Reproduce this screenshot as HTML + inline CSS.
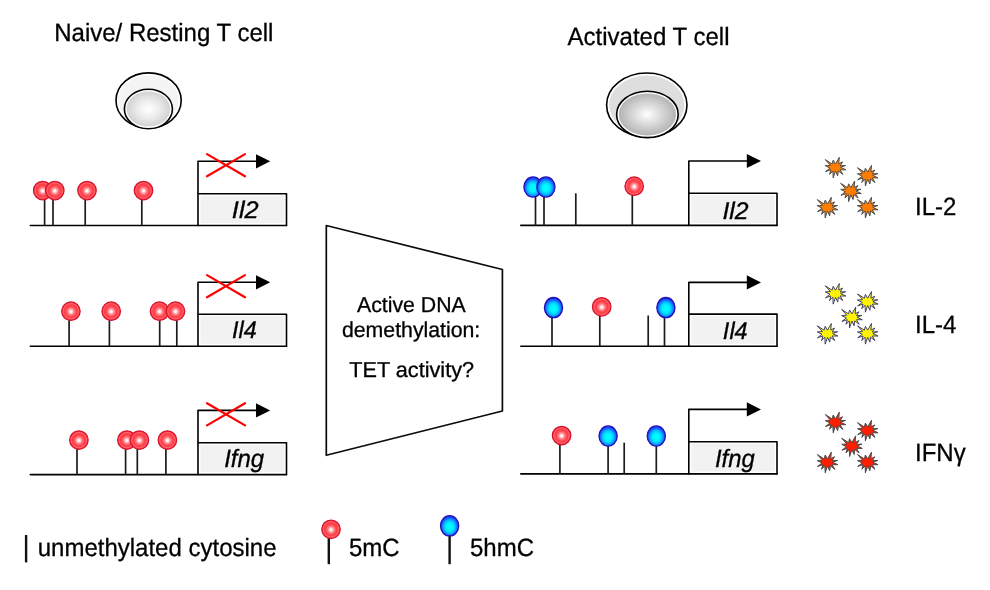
<!DOCTYPE html>
<html><head><meta charset="utf-8"><title>T cell DNA demethylation</title>
<style>
html,body{margin:0;padding:0;background:#fff;}
body{width:990px;height:590px;overflow:hidden;}
svg{display:block;will-change:transform;}
text{font-family:"Liberation Sans",sans-serif;fill:#000;stroke:#000;stroke-width:0.3px;text-rendering:geometricPrecision;}
.t{font-size:25px;}
.b{font-size:21.6px;}
.l{font-size:25px;}
.k{font-size:25px;}
.g{font-style:italic;}
.ln{stroke:#000;stroke-width:1.6;stroke-linejoin:round;stroke-linecap:round;}
.st{stroke:#1c1c1c;stroke-width:1.7;}
</style></head><body>
<svg width="990" height="590" viewBox="0 0 990 590">
<defs>
<radialGradient id="gr" cx="50%" cy="52%" r="50%">
<stop offset="0" stop-color="#ffffff"/><stop offset="0.1" stop-color="#fff2f2"/><stop offset="0.36" stop-color="#ff7a80"/><stop offset="0.58" stop-color="#ff424c"/><stop offset="1" stop-color="#ff3842"/>
</radialGradient>
<radialGradient id="gb" cx="50%" cy="55%" r="50%">
<stop offset="0" stop-color="#00ffff"/><stop offset="0.38" stop-color="#00f2ff"/><stop offset="0.64" stop-color="#08baff"/><stop offset="0.86" stop-color="#1268ff"/><stop offset="1" stop-color="#1838ff"/>
</radialGradient>
<radialGradient id="gc1" cx="50%" cy="50%" r="50%">
<stop offset="0" stop-color="#ffffff"/><stop offset="0.5" stop-color="#ececec"/><stop offset="1" stop-color="#d2d2d2"/>
</radialGradient>
<radialGradient id="gc2" cx="50%" cy="50%" r="50%">
<stop offset="0" stop-color="#ffffff"/><stop offset="0.45" stop-color="#dcdcdc"/><stop offset="1" stop-color="#b4b4b4"/>
</radialGradient>
</defs>
<text transform="translate(54.2 41.3) scale(0.96 1)" class="t">Naive/ Resting T cell</text>
<text transform="translate(567.6 45.1) scale(0.96 1)" class="t">Activated T cell</text>
<ellipse cx="148.6" cy="100.5" rx="32.6" ry="27.6" fill="#fff" stroke="#000" stroke-width="1.6"/>
<ellipse cx="148.6" cy="100.6" rx="30.2" ry="25.2" fill="#f4f4f4"/>
<ellipse cx="148.4" cy="109" rx="24" ry="19.8" fill="#fff" stroke="#000" stroke-width="1.6"/>
<ellipse cx="148.4" cy="109" rx="21.8" ry="17.6" fill="url(#gc1)"/>
<ellipse cx="646.8" cy="105" rx="40.2" ry="32" fill="#fff" stroke="#000" stroke-width="1.6"/>
<ellipse cx="646.8" cy="105.1" rx="37.6" ry="29.5" fill="#dedede"/>
<ellipse cx="647.4" cy="114.4" rx="30.8" ry="23.2" fill="#fff" stroke="#000" stroke-width="1.6"/>
<ellipse cx="647.4" cy="114.4" rx="28.6" ry="21" fill="url(#gc2)"/>
<rect x="198" y="193.8" width="88.5" height="31.69999999999999" fill="#fff"/><rect x="200.5" y="195.8" width="83.8" height="27.3" fill="#f2f2f2"/><line x1="30.3" y1="225.5" x2="286.5" y2="225.5" class="ln"/><path d="M198 193.8 H286.5 V225.5" class="ln" fill="none"/><path d="M198 225.5 V161.3 H258.0" class="ln" fill="none"/><path d="M256.0 154.20000000000002 L270.2 161.3 L256.0 168.4 Z" fill="#000"/><path d="M207.0 154.10000000000002 L245.0 176.3 M245.0 154.10000000000002 L207.0 176.3" stroke="#ff0000" stroke-width="2.2" fill="none" stroke-linecap="round"/><text transform="translate(245.3 217.5) scale(1.06 1)" class="g" font-size="24" text-anchor="middle">Il2</text>
<rect x="198" y="314.2" width="88.5" height="32.0" fill="#fff"/><rect x="200.5" y="316.2" width="83.8" height="27.6" fill="#f2f2f2"/><line x1="30.3" y1="346.2" x2="286.5" y2="346.2" class="ln"/><path d="M198 314.2 H286.5 V346.2" class="ln" fill="none"/><path d="M198 346.2 V282.3 H258.0" class="ln" fill="none"/><path d="M256.0 275.2 L270.2 282.3 L256.0 289.40000000000003 Z" fill="#000"/><path d="M207.0 275.09999999999997 L245.0 297.3 M245.0 275.09999999999997 L207.0 297.3" stroke="#ff0000" stroke-width="2.2" fill="none" stroke-linecap="round"/><text transform="translate(244.4 338.2) scale(0.975 1)" class="g" font-size="24" text-anchor="middle">Il4</text>
<rect x="198" y="442.7" width="88.5" height="31.900000000000034" fill="#fff"/><rect x="200.5" y="444.7" width="83.8" height="27.5" fill="#f2f2f2"/><line x1="30.3" y1="474.6" x2="286.5" y2="474.6" class="ln"/><path d="M198 442.7 H286.5 V474.6" class="ln" fill="none"/><path d="M198 474.6 V410.4 H258.0" class="ln" fill="none"/><path d="M256.0 403.29999999999995 L270.2 410.4 L256.0 417.5 Z" fill="#000"/><path d="M207.0 403.19999999999993 L245.0 425.4 M245.0 403.19999999999993 L207.0 425.4" stroke="#ff0000" stroke-width="2.2" fill="none" stroke-linecap="round"/><text transform="translate(244.15 467.2) scale(0.96 1)" class="g" font-size="25" text-anchor="middle">Ifng</text>
<line x1="44.6" y1="198.5" x2="44.6" y2="225.5" class="st"/><circle cx="42.7" cy="190.5" r="9.25" fill="url(#gr)" stroke="#d4142e" stroke-width="1.25"/><circle cx="42.7" cy="190.5" r="7.7" fill="none" stroke="#ffffff" stroke-opacity="0.22" stroke-width="1"/>
<line x1="53" y1="198.5" x2="53" y2="225.5" class="st"/><circle cx="54.8" cy="190.5" r="9.25" fill="url(#gr)" stroke="#d4142e" stroke-width="1.25"/><circle cx="54.8" cy="190.5" r="7.7" fill="none" stroke="#ffffff" stroke-opacity="0.22" stroke-width="1"/>
<line x1="85.2" y1="198.5" x2="85.2" y2="225.5" class="st"/><circle cx="87" cy="190.5" r="9.25" fill="url(#gr)" stroke="#d4142e" stroke-width="1.25"/><circle cx="87" cy="190.5" r="7.7" fill="none" stroke="#ffffff" stroke-opacity="0.22" stroke-width="1"/>
<line x1="141.8" y1="198.5" x2="141.8" y2="225.5" class="st"/><circle cx="143.5" cy="190.5" r="9.25" fill="url(#gr)" stroke="#d4142e" stroke-width="1.25"/><circle cx="143.5" cy="190.5" r="7.7" fill="none" stroke="#ffffff" stroke-opacity="0.22" stroke-width="1"/>
<line x1="69.1" y1="319.2" x2="69.1" y2="346.2" class="st"/><circle cx="70.9" cy="311.2" r="9.25" fill="url(#gr)" stroke="#d4142e" stroke-width="1.25"/><circle cx="70.9" cy="311.2" r="7.7" fill="none" stroke="#ffffff" stroke-opacity="0.22" stroke-width="1"/>
<line x1="109.4" y1="319.2" x2="109.4" y2="346.2" class="st"/><circle cx="111.2" cy="311.2" r="9.25" fill="url(#gr)" stroke="#d4142e" stroke-width="1.25"/><circle cx="111.2" cy="311.2" r="7.7" fill="none" stroke="#ffffff" stroke-opacity="0.22" stroke-width="1"/>
<line x1="159.7" y1="319.2" x2="159.7" y2="346.2" class="st"/><circle cx="159.5" cy="311.2" r="9.25" fill="url(#gr)" stroke="#d4142e" stroke-width="1.25"/><circle cx="159.5" cy="311.2" r="7.7" fill="none" stroke="#ffffff" stroke-opacity="0.22" stroke-width="1"/>
<line x1="176.8" y1="319.2" x2="176.8" y2="346.2" class="st"/><circle cx="175.5" cy="311.2" r="9.25" fill="url(#gr)" stroke="#d4142e" stroke-width="1.25"/><circle cx="175.5" cy="311.2" r="7.7" fill="none" stroke="#ffffff" stroke-opacity="0.22" stroke-width="1"/>
<line x1="77" y1="448.1" x2="77" y2="474.6" class="st"/><circle cx="78.9" cy="440.1" r="9.25" fill="url(#gr)" stroke="#d4142e" stroke-width="1.25"/><circle cx="78.9" cy="440.1" r="7.7" fill="none" stroke="#ffffff" stroke-opacity="0.22" stroke-width="1"/>
<line x1="125.6" y1="448.1" x2="125.6" y2="474.6" class="st"/><circle cx="126.9" cy="440.1" r="9.25" fill="url(#gr)" stroke="#d4142e" stroke-width="1.25"/><circle cx="126.9" cy="440.1" r="7.7" fill="none" stroke="#ffffff" stroke-opacity="0.22" stroke-width="1"/>
<line x1="137.3" y1="448.1" x2="137.3" y2="474.6" class="st"/><circle cx="139.4" cy="440.1" r="9.25" fill="url(#gr)" stroke="#d4142e" stroke-width="1.25"/><circle cx="139.4" cy="440.1" r="7.7" fill="none" stroke="#ffffff" stroke-opacity="0.22" stroke-width="1"/>
<line x1="165.9" y1="448.1" x2="165.9" y2="474.6" class="st"/><circle cx="167.4" cy="440.1" r="9.25" fill="url(#gr)" stroke="#d4142e" stroke-width="1.25"/><circle cx="167.4" cy="440.1" r="7.7" fill="none" stroke="#ffffff" stroke-opacity="0.22" stroke-width="1"/>
<path d="M326.3 225.5 L502.4 269.5 L502.4 411 L326.3 455.3 Z" fill="#fff" stroke="#0a0a0a" stroke-width="1.7" stroke-linejoin="round"/>
<text transform="translate(411.4 312.45) scale(0.985 1)" class="b" text-anchor="middle">Active DNA</text>
<text transform="translate(411.1 336.8) scale(0.985 1)" class="b" text-anchor="middle">demethylation:</text>
<text transform="translate(411.65 377.4) scale(1.003 1)" class="b" text-anchor="middle">TET activity?</text>
<rect x="688.8" y="193.2" width="88.20000000000005" height="32.20000000000002" fill="#fff"/><rect x="691.3" y="195.2" width="83.5" height="27.8" fill="#f2f2f2"/><line x1="520.8" y1="225.4" x2="777.0" y2="225.4" class="ln"/><path d="M688.8 193.2 H777.0 V225.4" class="ln" fill="none"/><path d="M688.8 225.4 V161 H748.8" class="ln" fill="none"/><path d="M746.8 153.9 L761.0 161 L746.8 168.1 Z" fill="#000"/><text transform="translate(735.55 218.9) scale(1.033 1)" class="g" font-size="24" text-anchor="middle">Il2</text>
<rect x="688.8" y="314.1" width="88.20000000000005" height="32.099999999999966" fill="#fff"/><rect x="691.3" y="316.1" width="83.5" height="27.7" fill="#f2f2f2"/><line x1="520.8" y1="346.2" x2="777.0" y2="346.2" class="ln"/><path d="M688.8 314.1 H777.0 V346.2" class="ln" fill="none"/><path d="M688.8 346.2 V282.4 H748.8" class="ln" fill="none"/><path d="M746.8 275.29999999999995 L761.0 282.4 L746.8 289.5 Z" fill="#000"/><text transform="translate(735.25 339.3) scale(0.978 1)" class="g" font-size="24" text-anchor="middle">Il4</text>
<rect x="688.8" y="441.7" width="88.20000000000005" height="32.19999999999999" fill="#fff"/><rect x="691.3" y="443.7" width="83.5" height="27.8" fill="#f2f2f2"/><line x1="520.8" y1="473.9" x2="777.0" y2="473.9" class="ln"/><path d="M688.8 441.7 H777.0 V473.9" class="ln" fill="none"/><path d="M688.8 473.9 V409.4 H748.8" class="ln" fill="none"/><path d="M746.8 402.29999999999995 L761.0 409.4 L746.8 416.5 Z" fill="#000"/><text transform="translate(734.85 467.0) scale(0.954 1)" class="g" font-size="25" text-anchor="middle">Ifng</text>
<line x1="535.5" y1="195" x2="535.5" y2="225.4" class="st"/><ellipse cx="533" cy="187" rx="9.1" ry="10.1" fill="url(#gb)" stroke="#2610b4" stroke-width="1.3"/>
<line x1="544" y1="195" x2="544" y2="225.4" class="st"/><ellipse cx="545.9" cy="187" rx="9.1" ry="10.1" fill="url(#gb)" stroke="#2610b4" stroke-width="1.3"/>
<line x1="575.8" y1="193.3" x2="575.8" y2="225.4" class="st"/>
<line x1="632.3" y1="194.2" x2="632.3" y2="225.4" class="st"/><circle cx="634.2" cy="186.2" r="9.25" fill="url(#gr)" stroke="#d4142e" stroke-width="1.25"/><circle cx="634.2" cy="186.2" r="7.7" fill="none" stroke="#ffffff" stroke-opacity="0.22" stroke-width="1"/>
<line x1="552" y1="315.6" x2="552" y2="346.2" class="st"/><ellipse cx="553.5" cy="307.6" rx="9.1" ry="10.1" fill="url(#gb)" stroke="#2610b4" stroke-width="1.3"/>
<line x1="599.8" y1="314.8" x2="599.8" y2="346.2" class="st"/><circle cx="601.7" cy="306.8" r="9.25" fill="url(#gr)" stroke="#d4142e" stroke-width="1.25"/><circle cx="601.7" cy="306.8" r="7.7" fill="none" stroke="#ffffff" stroke-opacity="0.22" stroke-width="1"/>
<line x1="648.2" y1="315.5" x2="648.2" y2="346.2" class="st"/>
<line x1="664.5" y1="315.6" x2="664.5" y2="346.2" class="st"/><ellipse cx="665.9" cy="307.6" rx="9.1" ry="10.1" fill="url(#gb)" stroke="#2610b4" stroke-width="1.3"/>
<line x1="559.9" y1="443.5" x2="559.9" y2="473.9" class="st"/><circle cx="561.6" cy="435.5" r="9.25" fill="url(#gr)" stroke="#d4142e" stroke-width="1.25"/><circle cx="561.6" cy="435.5" r="7.7" fill="none" stroke="#ffffff" stroke-opacity="0.22" stroke-width="1"/>
<line x1="608.1" y1="444" x2="608.1" y2="473.9" class="st"/><ellipse cx="608.1" cy="436" rx="9.1" ry="10.1" fill="url(#gb)" stroke="#2610b4" stroke-width="1.3"/>
<line x1="624.2" y1="442.6" x2="624.2" y2="473.9" class="st"/>
<line x1="656.3" y1="444" x2="656.3" y2="473.9" class="st"/><ellipse cx="656.3" cy="436" rx="9.1" ry="10.1" fill="url(#gb)" stroke="#2610b4" stroke-width="1.3"/>
<path transform="translate(835.4 167.4)" d="M-10.1 -7.8 L-3.27 -3.42 L-2.2 -7.3 L0.08 -3.42 L3.9 -10.1 L3.34 -3.57 L7.2 -5.5 L4.71 -1.67 L10.2 -1.9 L5.24 -0.08 L10.5 2.4 L4.71 2.43 L7.4 7.0 L2.96 3.57 L2.3 8.5 L0.08 3.72 L-2.2 10.5 L-2.51 3.57 L-5.8 7.0 L-4.56 2.43 L-9.9 4.2 L-5.4 0.68 L-10.1 -1.7 L-5.02 -2.05 Z" fill="#ff7d00" stroke="#44484c" stroke-width="0.95" stroke-linejoin="miter"/><path transform="translate(867.6 175.5)" d="M-10.1 -7.8 L-3.27 -3.42 L-2.2 -7.3 L0.08 -3.42 L3.9 -10.1 L3.34 -3.57 L7.2 -5.5 L4.71 -1.67 L10.2 -1.9 L5.24 -0.08 L10.5 2.4 L4.71 2.43 L7.4 7.0 L2.96 3.57 L2.3 8.5 L0.08 3.72 L-2.2 10.5 L-2.51 3.57 L-5.8 7.0 L-4.56 2.43 L-9.9 4.2 L-5.4 0.68 L-10.1 -1.7 L-5.02 -2.05 Z" fill="#ff7d00" stroke="#44484c" stroke-width="0.95" stroke-linejoin="miter"/><path transform="translate(850.8 191.1)" d="M-10.1 -7.8 L-3.27 -3.42 L-2.2 -7.3 L0.08 -3.42 L3.9 -10.1 L3.34 -3.57 L7.2 -5.5 L4.71 -1.67 L10.2 -1.9 L5.24 -0.08 L10.5 2.4 L4.71 2.43 L7.4 7.0 L2.96 3.57 L2.3 8.5 L0.08 3.72 L-2.2 10.5 L-2.51 3.57 L-5.8 7.0 L-4.56 2.43 L-9.9 4.2 L-5.4 0.68 L-10.1 -1.7 L-5.02 -2.05 Z" fill="#ff7d00" stroke="#44484c" stroke-width="0.95" stroke-linejoin="miter"/><path transform="translate(827.4 207.4)" d="M-10.1 -7.8 L-3.27 -3.42 L-2.2 -7.3 L0.08 -3.42 L3.9 -10.1 L3.34 -3.57 L7.2 -5.5 L4.71 -1.67 L10.2 -1.9 L5.24 -0.08 L10.5 2.4 L4.71 2.43 L7.4 7.0 L2.96 3.57 L2.3 8.5 L0.08 3.72 L-2.2 10.5 L-2.51 3.57 L-5.8 7.0 L-4.56 2.43 L-9.9 4.2 L-5.4 0.68 L-10.1 -1.7 L-5.02 -2.05 Z" fill="#ff7d00" stroke="#44484c" stroke-width="0.95" stroke-linejoin="miter"/><path transform="translate(867.6 207.4)" d="M-10.1 -7.8 L-3.27 -3.42 L-2.2 -7.3 L0.08 -3.42 L3.9 -10.1 L3.34 -3.57 L7.2 -5.5 L4.71 -1.67 L10.2 -1.9 L5.24 -0.08 L10.5 2.4 L4.71 2.43 L7.4 7.0 L2.96 3.57 L2.3 8.5 L0.08 3.72 L-2.2 10.5 L-2.51 3.57 L-5.8 7.0 L-4.56 2.43 L-9.9 4.2 L-5.4 0.68 L-10.1 -1.7 L-5.02 -2.05 Z" fill="#ff7d00" stroke="#44484c" stroke-width="0.95" stroke-linejoin="miter"/>
<path transform="translate(835.4 293.6)" d="M-10.1 -7.8 L-3.27 -3.42 L-2.2 -7.3 L0.08 -3.42 L3.9 -10.1 L3.34 -3.57 L7.2 -5.5 L4.71 -1.67 L10.2 -1.9 L5.24 -0.08 L10.5 2.4 L4.71 2.43 L7.4 7.0 L2.96 3.57 L2.3 8.5 L0.08 3.72 L-2.2 10.5 L-2.51 3.57 L-5.8 7.0 L-4.56 2.43 L-9.9 4.2 L-5.4 0.68 L-10.1 -1.7 L-5.02 -2.05 Z" fill="#fff400" stroke="#3a3a6a" stroke-width="0.95" stroke-linejoin="miter"/><path transform="translate(867.6 301.7)" d="M-10.1 -7.8 L-3.27 -3.42 L-2.2 -7.3 L0.08 -3.42 L3.9 -10.1 L3.34 -3.57 L7.2 -5.5 L4.71 -1.67 L10.2 -1.9 L5.24 -0.08 L10.5 2.4 L4.71 2.43 L7.4 7.0 L2.96 3.57 L2.3 8.5 L0.08 3.72 L-2.2 10.5 L-2.51 3.57 L-5.8 7.0 L-4.56 2.43 L-9.9 4.2 L-5.4 0.68 L-10.1 -1.7 L-5.02 -2.05 Z" fill="#fff400" stroke="#3a3a6a" stroke-width="0.95" stroke-linejoin="miter"/><path transform="translate(851.8 317.3)" d="M-10.1 -7.8 L-3.27 -3.42 L-2.2 -7.3 L0.08 -3.42 L3.9 -10.1 L3.34 -3.57 L7.2 -5.5 L4.71 -1.67 L10.2 -1.9 L5.24 -0.08 L10.5 2.4 L4.71 2.43 L7.4 7.0 L2.96 3.57 L2.3 8.5 L0.08 3.72 L-2.2 10.5 L-2.51 3.57 L-5.8 7.0 L-4.56 2.43 L-9.9 4.2 L-5.4 0.68 L-10.1 -1.7 L-5.02 -2.05 Z" fill="#fff400" stroke="#3a3a6a" stroke-width="0.95" stroke-linejoin="miter"/><path transform="translate(827.4 333.6)" d="M-10.1 -7.8 L-3.27 -3.42 L-2.2 -7.3 L0.08 -3.42 L3.9 -10.1 L3.34 -3.57 L7.2 -5.5 L4.71 -1.67 L10.2 -1.9 L5.24 -0.08 L10.5 2.4 L4.71 2.43 L7.4 7.0 L2.96 3.57 L2.3 8.5 L0.08 3.72 L-2.2 10.5 L-2.51 3.57 L-5.8 7.0 L-4.56 2.43 L-9.9 4.2 L-5.4 0.68 L-10.1 -1.7 L-5.02 -2.05 Z" fill="#fff400" stroke="#3a3a6a" stroke-width="0.95" stroke-linejoin="miter"/><path transform="translate(867.6 333.6)" d="M-10.1 -7.8 L-3.27 -3.42 L-2.2 -7.3 L0.08 -3.42 L3.9 -10.1 L3.34 -3.57 L7.2 -5.5 L4.71 -1.67 L10.2 -1.9 L5.24 -0.08 L10.5 2.4 L4.71 2.43 L7.4 7.0 L2.96 3.57 L2.3 8.5 L0.08 3.72 L-2.2 10.5 L-2.51 3.57 L-5.8 7.0 L-4.56 2.43 L-9.9 4.2 L-5.4 0.68 L-10.1 -1.7 L-5.02 -2.05 Z" fill="#fff400" stroke="#3a3a6a" stroke-width="0.95" stroke-linejoin="miter"/>
<path transform="translate(835.4 422.3)" d="M-10.1 -7.8 L-3.27 -3.42 L-2.2 -7.3 L0.08 -3.42 L3.9 -10.1 L3.34 -3.57 L7.2 -5.5 L4.71 -1.67 L10.2 -1.9 L5.24 -0.08 L10.5 2.4 L4.71 2.43 L7.4 7.0 L2.96 3.57 L2.3 8.5 L0.08 3.72 L-2.2 10.5 L-2.51 3.57 L-5.8 7.0 L-4.56 2.43 L-9.9 4.2 L-5.4 0.68 L-10.1 -1.7 L-5.02 -2.05 Z" fill="#ff1e00" stroke="#40484a" stroke-width="0.95" stroke-linejoin="miter"/><path transform="translate(867.6 430.4)" d="M-10.1 -7.8 L-3.27 -3.42 L-2.2 -7.3 L0.08 -3.42 L3.9 -10.1 L3.34 -3.57 L7.2 -5.5 L4.71 -1.67 L10.2 -1.9 L5.24 -0.08 L10.5 2.4 L4.71 2.43 L7.4 7.0 L2.96 3.57 L2.3 8.5 L0.08 3.72 L-2.2 10.5 L-2.51 3.57 L-5.8 7.0 L-4.56 2.43 L-9.9 4.2 L-5.4 0.68 L-10.1 -1.7 L-5.02 -2.05 Z" fill="#ff1e00" stroke="#40484a" stroke-width="0.95" stroke-linejoin="miter"/><path transform="translate(851.8 446.0)" d="M-10.1 -7.8 L-3.27 -3.42 L-2.2 -7.3 L0.08 -3.42 L3.9 -10.1 L3.34 -3.57 L7.2 -5.5 L4.71 -1.67 L10.2 -1.9 L5.24 -0.08 L10.5 2.4 L4.71 2.43 L7.4 7.0 L2.96 3.57 L2.3 8.5 L0.08 3.72 L-2.2 10.5 L-2.51 3.57 L-5.8 7.0 L-4.56 2.43 L-9.9 4.2 L-5.4 0.68 L-10.1 -1.7 L-5.02 -2.05 Z" fill="#ff1e00" stroke="#40484a" stroke-width="0.95" stroke-linejoin="miter"/><path transform="translate(827.4 462.3)" d="M-10.1 -7.8 L-3.27 -3.42 L-2.2 -7.3 L0.08 -3.42 L3.9 -10.1 L3.34 -3.57 L7.2 -5.5 L4.71 -1.67 L10.2 -1.9 L5.24 -0.08 L10.5 2.4 L4.71 2.43 L7.4 7.0 L2.96 3.57 L2.3 8.5 L0.08 3.72 L-2.2 10.5 L-2.51 3.57 L-5.8 7.0 L-4.56 2.43 L-9.9 4.2 L-5.4 0.68 L-10.1 -1.7 L-5.02 -2.05 Z" fill="#ff1e00" stroke="#40484a" stroke-width="0.95" stroke-linejoin="miter"/><path transform="translate(867.6 462.3)" d="M-10.1 -7.8 L-3.27 -3.42 L-2.2 -7.3 L0.08 -3.42 L3.9 -10.1 L3.34 -3.57 L7.2 -5.5 L4.71 -1.67 L10.2 -1.9 L5.24 -0.08 L10.5 2.4 L4.71 2.43 L7.4 7.0 L2.96 3.57 L2.3 8.5 L0.08 3.72 L-2.2 10.5 L-2.51 3.57 L-5.8 7.0 L-4.56 2.43 L-9.9 4.2 L-5.4 0.68 L-10.1 -1.7 L-5.02 -2.05 Z" fill="#ff1e00" stroke="#40484a" stroke-width="0.95" stroke-linejoin="miter"/>
<text transform="translate(915 214.6) scale(0.96 1)" class="l">IL-2</text>
<text transform="translate(915 332.9) scale(0.96 1)" class="l">IL-4</text>
<text transform="translate(915 460.8) scale(0.96 1)" class="l">IFNγ</text>
<line x1="26.1" y1="535" x2="26.1" y2="562.4" stroke="#111" stroke-width="2.4"/>
<text transform="translate(37.7 555.7) scale(0.96 1)" class="k">unmethylated cytosine</text>
<line x1="328.8" y1="537.3" x2="328.8" y2="564.2" stroke="#111" stroke-width="2.4"/><circle cx="331" cy="529.3" r="9.25" fill="url(#gr)" stroke="#d4142e" stroke-width="1.25"/><circle cx="331" cy="529.3" r="7.7" fill="none" stroke="#ffffff" stroke-opacity="0.22" stroke-width="1"/>
<text transform="translate(349 555.7) scale(0.96 1)" class="k">5mC</text>
<line x1="449.6" y1="533.8" x2="449.6" y2="564.2" stroke="#111" stroke-width="2.4"/><ellipse cx="449.6" cy="525.8" rx="9.1" ry="10.1" fill="url(#gb)" stroke="#2610b4" stroke-width="1.3"/>
<text transform="translate(470 555.7) scale(0.96 1)" class="k">5hmC</text>
</svg>
</body></html>
